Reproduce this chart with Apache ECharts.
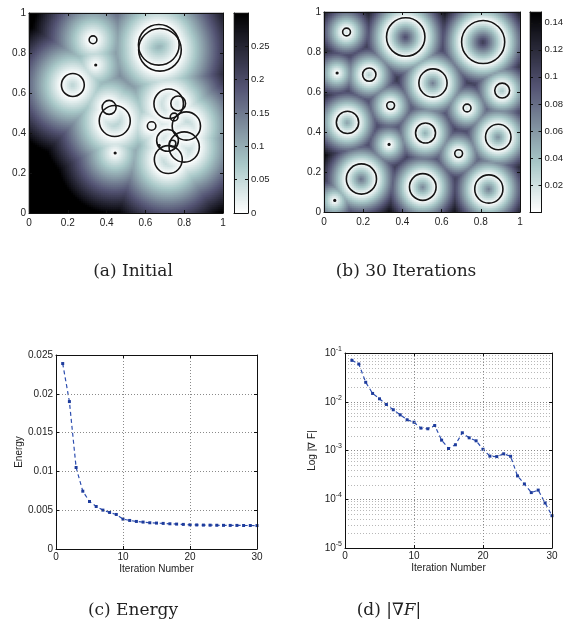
<!DOCTYPE html>
<html><head><meta charset="utf-8">
<script src="https://cdn.jsdelivr.net/npm/echarts@6/dist/echarts.min.js"></script>
<style>html,body{margin:0;padding:0;background:#fff}#c{width:566px;height:633px}</style>
</head><body><div id="c"></div>
<script>
// ---------------- DATA ----------------
// circles [x, y, r] of the initial configuration (a)
const circlesInitial = [
  [0.330,0.866,0.020],[0.344,0.740,0.005],[0.669,0.841,0.105],[0.675,0.816,0.110],
  [0.226,0.640,0.059],[0.413,0.528,0.036],[0.442,0.460,0.080],[0.444,0.300,0.004],
  [0.632,0.435,0.022],[0.720,0.546,0.076],[0.769,0.548,0.038],[0.748,0.480,0.020],
  [0.811,0.435,0.073],[0.714,0.363,0.056],[0.800,0.330,0.078],[0.718,0.267,0.072],
  [0.740,0.347,0.017],[0.671,0.338,0.005]
];
// circles [x, y, r] after 30 iterations (b)
const circles30 = [
  [0.115,0.900,0.020],[0.417,0.875,0.098],[0.812,0.850,0.110],[0.067,0.695,0.006],
  [0.231,0.687,0.034],[0.556,0.645,0.072],[0.909,0.607,0.038],[0.340,0.532,0.020],
  [0.730,0.520,0.020],[0.120,0.448,0.057],[0.518,0.395,0.051],[0.889,0.375,0.065],
  [0.332,0.338,0.008],[0.687,0.292,0.020],[0.191,0.165,0.077],[0.504,0.125,0.068],
  [0.841,0.115,0.072],[0.055,0.058,0.004]
];
const colorMaxA = 0.30, colorMaxB = 0.148;
const iterations = [1,2,3,4,5,6,7,8,9,10,11,12,13,14,15,16,17,18,19,20,21,22,23,24,25,26,27,28,29,30];
const energy = [0.0239,0.0190,0.0105,0.00745,0.00612,0.00548,0.00501,0.00471,0.00445,0.00385,
  0.00368,0.00355,0.00347,0.00338,0.00334,0.00330,0.00325,0.00321,0.00317,0.00312,
  0.00310,0.00308,0.00307,0.00306,0.00305,0.00304,0.00304,0.00303,0.00303,0.00302];
const gradNorm = [0.0708,0.0594,0.0251,0.0148,0.0115,0.0088,0.00685,0.0054,0.00427,0.0038,
  0.00288,0.00279,0.00326,0.00163,0.00110,0.00131,0.00231,0.00182,0.00158,0.00106,
  0.000766,0.00075,0.000855,0.00076,0.000301,0.000206,0.000137,0.000154,0.000084,0.000046];
const captions = ['(a) Initial','(b) 30 Iterations','(c) Energy','(d) |∇{i|F}|'];
// reversed MATLAB "bone" colormap
const boneR = ['#ffffff','#d3e3e3','#a7c7c7','#8ca1ab','#707a8f','#545474','#38384d','#1c1c27','#000000'];

// ---------------- BUILD ----------------
const FONT = 'Liberation Sans';
function field(circles,nx,ny){
  const d=[];
  for(let i=0;i<nx;i++)for(let j=0;j<ny;j++){
    const x=(i+0.5)/nx,y=(j+0.5)/ny;let m=Infinity;
    for(const c of circles){const v=Math.abs(Math.hypot(x-c[0],y-c[1])-c[2]);if(v<m)m=v;}
    d.push([i,j,m]);
  }
  return d;
}
const range=n=>Array.from({length:n},(_,i)=>i);
const grids=[],xAxes=[],yAxes=[],series=[];
function addX(o){xAxes.push(o);return xAxes.length-1;}
function addY(o){yAxes.push(o);return yAxes.length-1;}
function hiddenCat(g,data){return {type:'category',gridIndex:g,data:data,show:false};}
function valAx(g,pos,min,max,interval,labels,extra){
  return Object.assign({type:'value',gridIndex:g,position:pos,min:min,max:max,interval:interval,z:10,
    axisLine:{show:true,onZero:false,lineStyle:{color:'#111',width:1}},
    axisTick:{show:true,inside:true,length:3,lineStyle:{color:'#111',width:1}},
    axisLabel:{show:labels,color:'#222',fontFamily:FONT,fontSize:10,margin:3},
    splitLine:{show:false}},extra||{});
}
function circleSeries(xi,yi,circles){
  return {type:'custom',xAxisIndex:xi,yAxisIndex:yi,data:circles,clip:true,z:5,silent:true,
    renderItem:function(p,api){
      const c=api.coord([api.value(0),api.value(1)]);
      const s=api.size([api.value(2),api.value(2)]);
      const r=api.value(2);
      if(r<0.01){return {type:'circle',shape:{cx:c[0],cy:c[1],r:Math.max(s[0],1.6)},style:{fill:'#151515',stroke:null}};}
      return {type:'circle',shape:{cx:c[0],cy:c[1],r:s[0]},style:{fill:null,stroke:'#151515',lineWidth:1.6}};
    }};
}
function mapPanel(box,nx,ny,cbBox,circles,cmax,cbInterval,showMin){
  const g=grids.length;grids.push(box);
  const hx=addX(hiddenCat(g,range(nx))),hy=addY(hiddenCat(g,range(ny)));
  const vx=addX(valAx(g,'bottom',0,1,0.2,true,{axisLabel:{show:true,color:'#222',fontFamily:FONT,fontSize:10,margin:5}}));
  addX(valAx(g,'top',0,1,0.2,false));
  const vy=addY(valAx(g,'left',0,1,0.2,true));
  addY(valAx(g,'right',0,1,0.2,false));
  const hs=series.length;
  series.push({type:'heatmap',xAxisIndex:hx,yAxisIndex:hy,data:field(circles,nx,ny),progressive:0,silent:true,emphasis:{disabled:true}});
  series.push(circleSeries(vx,vy,circles));
  // colorbar
  const cg=grids.length;grids.push(cbBox);
  const L=cbBox.height/2;const lv=range(L);
  const cx=addX(hiddenCat(cg,['c'])),cy=addY(hiddenCat(cg,lv));
  addX(valAx(cg,'bottom',0,1,1,false,{axisTick:{show:false}}));
  addX(valAx(cg,'top',0,1,1,false,{axisTick:{show:false}}));
  addY(valAx(cg,'left',0,cmax,cbInterval,false));
  addY(valAx(cg,'right',0,cmax,cbInterval,true,{axisLabel:{show:true,color:'#222',fontFamily:FONT,fontSize:9.5,margin:3,showMaxLabel:false,showMinLabel:showMin}}));
  const cs=series.length;
  series.push({type:'heatmap',xAxisIndex:cx,yAxisIndex:cy,data:lv.map(j=>[0,j,(j+0.5)/L*cmax]),progressive:0,silent:true,emphasis:{disabled:true}});
  return {min:0,max:cmax,seriesIndex:[hs,cs]};
}
const vmA=mapPanel({left:29,top:13,width:194,height:200},97,100,{left:234,top:13,width:14,height:200},circlesInitial,colorMaxA,0.05,true);
const vmB=mapPanel({left:324,top:12,width:196,height:200},98,100,{left:530,top:12,width:15,height:200},circles30,colorMaxB,0.02,false);

const dotted={show:true,lineStyle:{type:[1,2],color:'#8a8a8a',width:1}};
const lineStyle={type:[4,3],width:1.2,color:'#2d4eb0'};
const nameStyle={color:'#222',fontFamily:FONT,fontSize:10};
// (c) energy
{
  const g=grids.length;grids.push({left:56,top:355,width:201,height:194});
  const x=addX(valAx(g,'bottom',0,30,10,true,{splitLine:dotted,name:'Iteration Number',nameLocation:'middle',nameGap:15,nameTextStyle:nameStyle}));
  addX(valAx(g,'top',0,30,10,false));
  const y=addY(valAx(g,'left',0,0.025,0.005,true,{splitLine:dotted,name:'Energy',nameLocation:'middle',nameGap:32,nameTextStyle:nameStyle}));
  addY(valAx(g,'right',0,0.025,0.005,false));
  series.push({type:'line',xAxisIndex:x,yAxisIndex:y,data:iterations.map((v,i)=>[v,energy[i]]),symbol:'rect',symbolSize:3,
    lineStyle:lineStyle,itemStyle:{color:'#1e3c9c'},z:5});
}
// (d) gradient norm (log)
{
  const g=grids.length;grids.push({left:345,top:353,width:207,height:195});
  const x=addX(valAx(g,'bottom',0,30,10,true,{splitLine:dotted,name:'Iteration Number',nameLocation:'middle',nameGap:15,nameTextStyle:nameStyle}));
  addX(valAx(g,'top',0,30,10,false));
  const logAx=(pos,labels,extra)=>Object.assign({type:'log',logBase:10,gridIndex:g,position:pos,min:1e-5,max:0.1,z:10,
    axisLine:{show:true,onZero:false,lineStyle:{color:'#111',width:1}},
    axisTick:{show:true,inside:true,length:3,lineStyle:{color:'#111'}},
    axisLabel:{show:labels,margin:3,formatter:v=>'{b|10}{s|'+Math.round(Math.log10(v))+'}',
      rich:{b:{fontSize:10,fontFamily:FONT,color:'#222'},s:{fontSize:7,fontFamily:FONT,color:'#222',padding:[0,0,8,0]}}},
    splitLine:{show:false}},extra||{});
  const y=addY(logAx('left',true,{splitLine:dotted,name:'Log |∇ F|',nameLocation:'middle',nameGap:28,nameTextStyle:nameStyle}));
  addY(logAx('right',false));
  // minor log grid lines (2..9 x 10^e)
  const minor=[];
  for(let e=-5;e<=-2;e++)for(let m=2;m<=9;m++)minor.push([0,m*Math.pow(10,e)]);
  series.push({type:'custom',xAxisIndex:x,yAxisIndex:y,data:minor,silent:true,z:1,clip:true,
    renderItem:function(p,api){
      const a=api.coord([0,api.value(1)]),b=api.coord([30,api.value(1)]);
      const yy=Math.round(a[1])+0.5;
      return {type:'line',shape:{x1:a[0],y1:yy,x2:b[0],y2:yy},style:{stroke:'#b8b8b8',lineDash:[1,2],lineWidth:1}};
    }});
  series.push({type:'line',xAxisIndex:x,yAxisIndex:y,data:iterations.map((v,i)=>[v,gradNorm[i]]),symbol:'rect',symbolSize:3,
    lineStyle:lineStyle,itemStyle:{color:'#1e3c9c'},z:5});
}
const capFont='17px "DejaVu Serif"';
const graphic=[
  {type:'text',x:133,y:272,style:{text:captions[0],font:capFont,fill:'#222',textAlign:'center',textVerticalAlign:'middle'}},
  {type:'text',x:406,y:272,style:{text:captions[1],font:capFont,fill:'#222',textAlign:'center',textVerticalAlign:'middle'}},
  {type:'text',x:133,y:611,style:{text:captions[2],font:capFont,fill:'#222',textAlign:'center',textVerticalAlign:'middle'}},
  {type:'text',x:389,y:611,style:{text:captions[3],font:capFont,fill:'#222',textAlign:'center',textVerticalAlign:'middle',
    rich:{i:{fontStyle:'italic',fontFamily:'DejaVu Serif',fontSize:17,fill:'#222'}}}}
];
const chart=echarts.init(document.getElementById('c'),null,{renderer:'canvas'});
chart.setOption({
  animation:false,backgroundColor:'#fff',
  grid:grids,xAxis:xAxes,yAxis:yAxes,series:series,graphic:graphic,
  visualMap:[
    Object.assign({type:'continuous',show:false,inRange:{color:boneR}},vmA),
    Object.assign({type:'continuous',show:false,inRange:{color:boneR}},vmB)
  ]
});
</script></body></html>
